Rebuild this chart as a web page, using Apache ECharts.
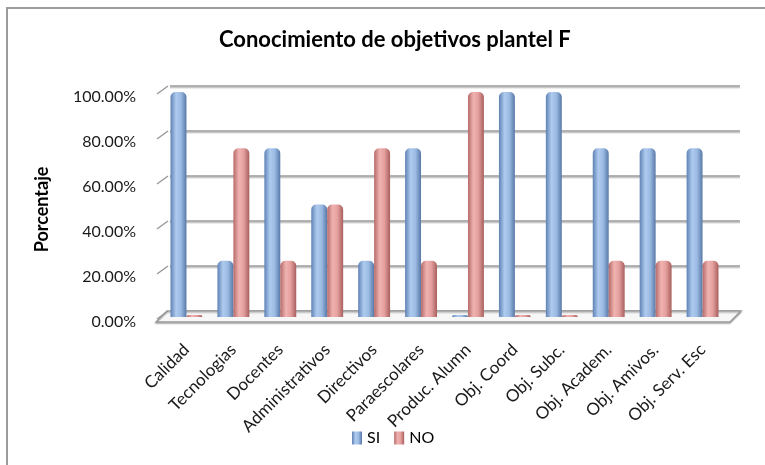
<!DOCTYPE html>
<html>
<head>
<meta charset="utf-8">
<script src="https://cdn.jsdelivr.net/npm/echarts@6/dist/echarts.min.js"></script>
<style>
  html, body { margin: 0; padding: 0; background: #fff; }
  #chart { width: 765px; height: 465px; }
</style>
</head>
<body>
<div id="chart"></div>
<script>
const categories = ['Calidad', 'Tecnologias', 'Docentes', 'Administrativos', 'Directivos', 'Paraescolares',
    'Produc. Alumn', 'Obj. Coord', 'Obj. Subc.', 'Obj. Academ.', 'Obj. Amivos.', 'Obj. Serv. Esc'];
const siValues = [100, 25, 75, 50, 25, 75, 0, 100, 100, 75, 75, 75];
const noValues = [0, 75, 25, 50, 75, 25, 100, 0, 0, 25, 25, 25];
const yTicks = [0, 20, 40, 60, 80, 100];

const font = 'Lato';

// cylinder-ish shading
function shade(edge, light, mid, edge2) {
    return new echarts.graphic.LinearGradient(0, 0, 1, 0, [
        {offset: 0, color: edge},
        {offset: 0.35, color: light},
        {offset: 0.65, color: mid},
        {offset: 1, color: edge2}
    ]);
}

const chart = echarts.init(document.getElementById('chart'));

chart.setOption({
    animation: false,
    backgroundColor: '#fff',
    textStyle: {fontFamily: font},
    title: {
        text: 'Conocimiento de objetivos plantel F',
        left: 214,
        top: 24,
        textStyle: {fontFamily: font, fontSize: 22, fontWeight: 'bold', color: '#000'}
    },
    legend: {
        left: 352,
        top: 430,
        padding: 0,
        icon: 'rect',
        itemWidth: 10,
        itemHeight: 13,
        itemGap: 14,
        textStyle: {fontFamily: font, fontSize: 16, color: '#000'},
        data: ['SI', 'NO']
    },
    grid: [
        // back wall
        {left: 170, right: 25, top: 86, bottom: 154},
        // bars
        {left: 163, right: 39, top: 92, bottom: 148},
        // labels on the front edge of the wall
        {left: 163, right: 39, top: 97, bottom: 143}
    ],
    xAxis: [
        {gridIndex: 0, type: 'value', show: false, min: 0, max: 1},
        {
            gridIndex: 1, type: 'category', data: categories,
            axisLine: {show: false}, axisTick: {show: false},
            axisLabel: {interval: 0, rotate: 45, margin: 30, fontFamily: font, fontSize: 17, color: '#1a1a1a'}
        },
        {gridIndex: 2, type: 'value', show: false, min: 0, max: 1}
    ],
    yAxis: [
        {
            gridIndex: 0, type: 'value', min: 0, max: 100, interval: 20,
            axisLine: {show: false}, axisTick: {show: false}, axisLabel: {show: false},
            splitLine: {lineStyle: {color: '#9a9a9a', width: 1.5, shadowColor: 'rgba(0,0,0,0.25)', shadowOffsetY: 1.5, shadowBlur: 1}}
        },
        {
            gridIndex: 1, type: 'value', min: 0, max: 100, interval: 20,
            axisLine: {show: false}, axisTick: {show: false}, splitLine: {show: false}, axisLabel: {show: false}
        },
        {
            gridIndex: 2, type: 'value', min: 0, max: 100, interval: 20,
            name: 'Porcentaje', nameLocation: 'middle', nameGap: 112,
            nameTextStyle: {fontFamily: font, fontSize: 18, fontWeight: 'bold', color: '#000'},
            axisLine: {show: false}, axisTick: {show: false}, splitLine: {show: false},
            axisLabel: {
                margin: 27, fontFamily: font, fontSize: 16, color: '#1a1a1a',
                formatter: v => v.toFixed(2) + '%'
            }
        }
    ],
    series: [
        {
            name: 'SI', type: 'bar', xAxisIndex: 1, yAxisIndex: 1, z: 5,
            data: siValues, barGap: '0%', barCategoryGap: '32%', barMinHeight: 2,
            itemStyle: {
                color: shade('#5f82b5', '#aecaee', '#9cbbe3', '#5878a8'),
                borderRadius: [5, 5, 0, 0]
            }
        },
        {
            name: 'NO', type: 'bar', xAxisIndex: 1, yAxisIndex: 1, z: 5,
            data: noValues, barMinHeight: 2,
            itemStyle: {
                color: shade('#b56b69', '#f0b3b1', '#e39f9d', '#a85f5d'),
                borderRadius: [5, 5, 0, 0]
            }
        }
    ]
});

// decoration: outer frame (only top and left edges are in view), floor, slanted wall ticks
const graphic = [
    {
        type: 'rect', z: -10, silent: true,
        shape: {x: 7, y: 8, width: 800, height: 500},
        style: {fill: '#fff', stroke: '#9c9c9c', lineWidth: 2}
    },
    {
        type: 'polygon', z: 1, silent: true,
        shape: {points: [[156, 322], [167, 311], [741, 311], [730, 322]]},
        style: {fill: '#f7f7f7', stroke: '#9a9a9a', lineWidth: 1.5, shadowColor: 'rgba(0,0,0,0.2)', shadowOffsetY: 1.5, shadowBlur: 1}
    }
];
yTicks.forEach(v => {
    const yBack = chart.convertToPixel({yAxisIndex: 0}, v);
    graphic.push({
        type: 'line', z: 1, silent: true,
        shape: {x1: 157, y1: yBack + 8, x2: 168, y2: yBack},
        style: {stroke: '#9a9a9a', lineWidth: 1.5}
    });
});
chart.setOption({graphic: graphic});
</script>
</body>
</html>
